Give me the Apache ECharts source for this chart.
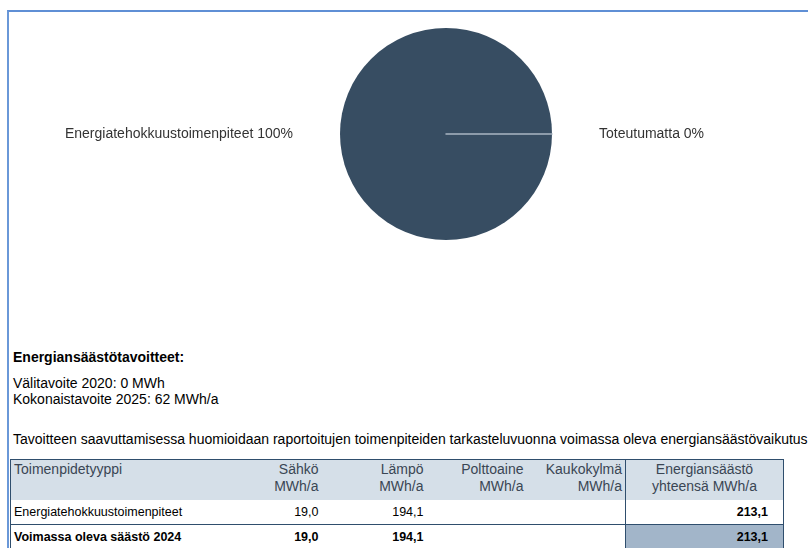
<!DOCTYPE html>
<html>
<head>
<meta charset="utf-8">
<script src="https://cdn.jsdelivr.net/npm/echarts@6/dist/echarts.min.js"></script>
<style>
  html, body { margin: 0; padding: 0; background: #fff; width: 808px; height: 548px; overflow: hidden; font-family: 'Liberation Sans', Arial, sans-serif; }
  #frame { position: absolute; left: 7px; top: 10px; width: 900px; height: 600px; border-left: 2px solid #6a98d8; border-top: 2px solid #5f8fd5; box-sizing: border-box; }
  #chart { position: absolute; left: 8px; top: 11px; width: 800px; height: 300px; }
  .txt { position: absolute; left: 13px; font-size: 14px; line-height: 16px; color: #000; white-space: nowrap; }
  table { position: absolute; left: 10px; top: 459px; border-collapse: collapse; font-size: 14px; table-layout: fixed; }
  td, th { padding: 0 3px; white-space: nowrap; }
  thead th { background: #d5dfe8; color: #3a4654; font-weight: normal; height: 40px; vertical-align: top; padding-top: 1px; line-height: 17px; box-sizing: border-box; }
  tbody td { font-size: 12.5px; color: #000; }
  .r { text-align: right; }
  .l { text-align: left; }
  .c { text-align: center; }
</style>
</head>
<body>
<div id="frame"></div>
<div id="chart"></div>
<div id="texts"></div>
<table id="tbl"></table>
<script>
// ---- data ----
var pieNames = ['Energiatehokkuustoimenpiteet', 'Toteutumatta'];
var pieValues = [213.1, 0];

var goalTitle = 'Energiansäästötavoitteet:';
var goalLines = ['Välitavoite 2020: 0 MWh', 'Kokonaistavoite 2025: 62 MWh/a'];
var noteText = 'Tavoitteen saavuttamisessa huomioidaan raportoitujen toimenpiteiden tarkasteluvuonna voimassa oleva energiansäästövaikutus.';

var tableHeaders = ['Toimenpidetyyppi', 'Sähkö<br>MWh/a', 'Lämpö<br>MWh/a', 'Polttoaine<br>MWh/a', 'Kaukokylmä<br>MWh/a', 'Energiansäästö<br>yhteensä MWh/a'];
var rowLabels = ['Energiatehokkuustoimenpiteet', 'Voimassa oleva säästö 2024'];
var sahko = ['19,0', '19,0'];
var lampo = ['194,1', '194,1'];
var polttoaine = ['', ''];
var kaukokylma = ['', ''];
var yhteensa = ['213,1', '213,1'];

// ---- chart ----
var chart = echarts.init(document.getElementById('chart'), null, { renderer: 'canvas' });
var FONT = "'Liberation Sans', Arial, sans-serif";
chart.setOption({
  animation: false,
  polar: { center: [438, 123], radius: 106 },
  angleAxis: { show: false, startAngle: 0, type: 'value', min: 0, max: 360 },
  radiusAxis: {
    type: 'value', min: 0, max: 1, z: 10,
    axisLine: { show: true, lineStyle: { color: '#a9b5c2', width: 1.5 } },
    axisTick: { show: false }, axisLabel: { show: false }, splitLine: { show: false }
  },
  series: [{
    type: 'pie',
    center: [438, 123],
    radius: 106,
    startAngle: 0,
    clockwise: true,
    avoidLabelOverlap: false,
    itemStyle: { color: '#374d62' },
    label: {
      show: true, position: 'outside', formatter: '{b} {d}%',
      color: '#333', fontFamily: FONT, fontSize: 14, distanceToLabelLine: 5
    },
    labelLine: { show: false, length: 20, length2: 22 },
    emphasis: { disabled: true },
    data: pieNames.map(function (n, i) { return { name: n, value: pieValues[i] }; })
  }]
});

// ---- texts ----
var texts = document.getElementById('texts');
function addText(t, top, bold) {
  var d = document.createElement('div');
  d.className = 'txt';
  d.style.top = top + 'px';
  if (bold) d.style.fontWeight = 'bold';
  d.textContent = t;
  texts.appendChild(d);
}
addText(goalTitle, 348.5, true);
addText(goalLines[0], 374.5, false);
addText(goalLines[1], 391, false);
addText(noteText, 430.5, false);

// ---- table ----
var widths = [210, 101, 105, 100, 99, 158];
var tbl = document.getElementById('tbl');
var html = '<colgroup>' + widths.map(function (w) { return '<col style="width:' + w + 'px">'; }).join('') + '</colgroup>';
html += '<thead><tr>';
tableHeaders.forEach(function (h, i) {
  var cls = i === 0 ? 'l' : (i === 5 ? 'c' : 'r');
  var st = 'border-top:1px solid #2f4e6d;';
  if (i === 0) st += 'border-left:1px solid #2f4e6d;';
  if (i === 5) st += 'border-left:1px solid #2f4e6d;border-right:1px solid #2f4e6d;';
  html += '<th class="' + cls + '" style="' + st + '">' + h + '</th>';
});
html += '</tr></thead><tbody>';
rowLabels.forEach(function (lab, r) {
  var bold = r === 1 ? 'font-weight:bold;' : '';
  var h = r === 0 ? 25 : 24;
  var bb = r === 0 ? 'border-bottom:1px solid #2f4e6d;' : '';
  var cells = [lab, sahko[r], lampo[r], polttoaine[r], kaukokylma[r], yhteensa[r]];
  html += '<tr style="height:' + h + 'px">';
  cells.forEach(function (c, i) {
    var st = bold + bb;
    if (i === 0) st += 'border-left:1px solid #2f4e6d;';
    if (i === 5) st += 'border-left:1px solid #2f4e6d;border-right:1px solid #2f4e6d;padding-right:15px;font-weight:bold;';
    if (i === 5 && r === 1) st += 'background:#a2b5c9;';
    html += '<td class="' + (i === 0 ? 'l' : 'r') + '" style="' + st + '">' + c + '</td>';
  });
  html += '</tr>';
});
html += '</tbody>';
tbl.innerHTML = html;
</script>
</body>
</html>
